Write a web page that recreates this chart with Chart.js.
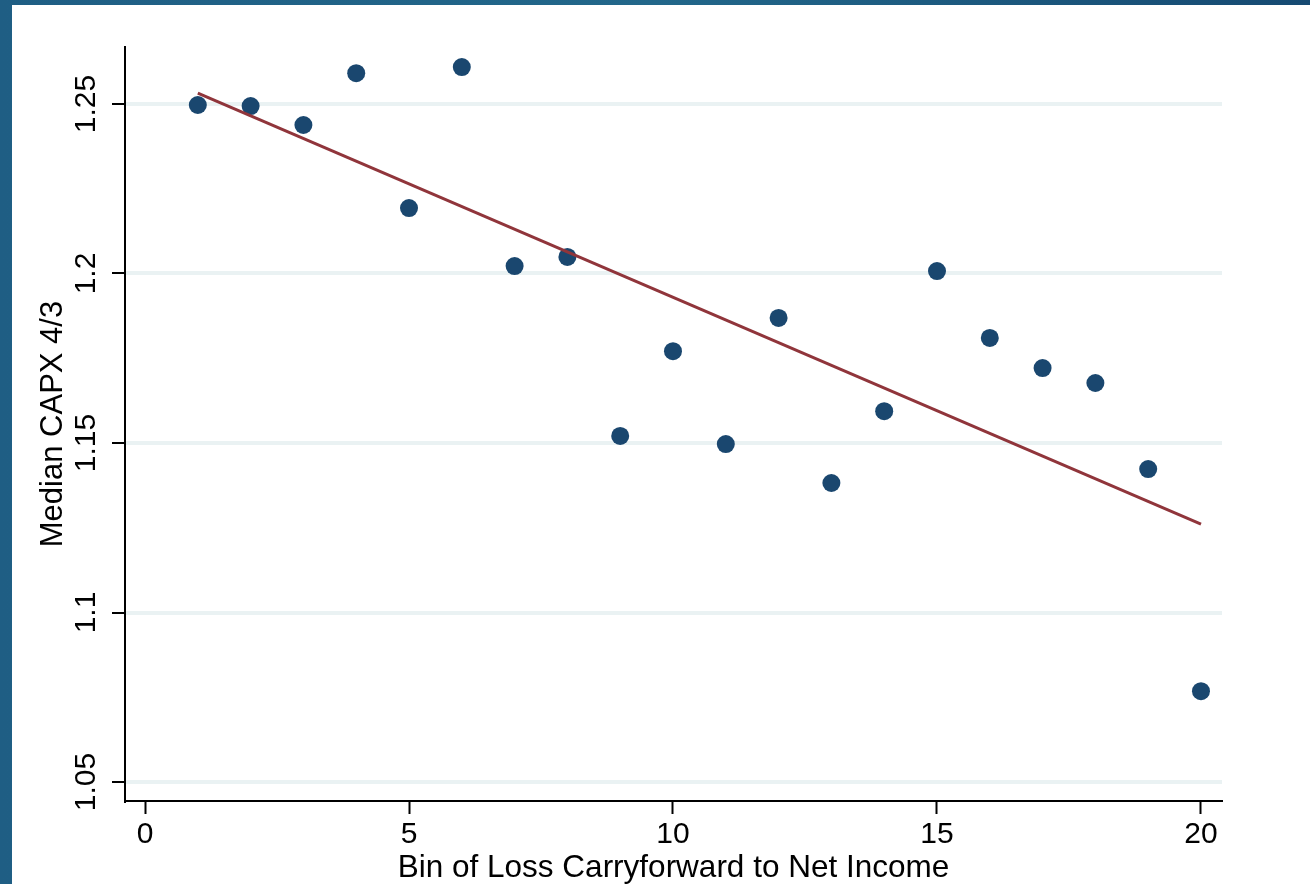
<!DOCTYPE html>
<html>
<head>
<meta charset="utf-8">
<script src="https://cdn.jsdelivr.net/npm/chart.js@4"></script>
<style>
html, body { margin: 0; padding: 0; width: 1310px; height: 884px; overflow: hidden; }
body { position: relative; background: linear-gradient(90deg, #1f5e84, #22678a 50%, #164a72); }
#panel { position: absolute; left: 12px; top: 5px; right: 0; bottom: 0; background: #ffffff; }
#chart { position: absolute; left: 0; top: 0; }
</style>
</head>
<body>
<div id="panel"></div>
<canvas id="chart" width="1310" height="884"></canvas>
<script>
// values
const bins = [1, 2, 3, 4, 5, 6, 7, 8, 9, 10, 11, 12, 13, 14, 15, 16, 17, 18, 19, 20];
const medianCapx = [1.2497, 1.2494, 1.2438, 1.2591, 1.2193, 1.2609, 1.2022, 1.2049, 1.1521, 1.1771,
                    1.1497, 1.1869, 1.1382, 1.1594, 1.2007, 1.1810, 1.1721, 1.1677, 1.1423, 1.0768];
const fitBins = [1, 20];
const fitValues = [1.2532, 1.1261];
const xTicks = [0, 5, 10, 15, 20];
const yTicks = [1.05, 1.1, 1.15, 1.2, 1.25];

const navy = '#1a476f';
const maroon = '#90353b';
const fontFamily = "'Liberation Sans', Arial, sans-serif";

document.addEventListener('DOMContentLoaded', () => {
    const ctx = document.getElementById('chart').getContext('2d');

    const points = bins.map((b, i) => ({ x: b, y: medianCapx[i] }));
    const fitLine = fitBins.map((b, i) => ({ x: b, y: fitValues[i] }));

    new Chart(ctx, {
        type: 'scatter',
        data: {
            datasets: [{
                data: fitLine,
                type: 'line',
                showLine: true,
                borderColor: maroon,
                borderWidth: 3,
                pointRadius: 0,
                fill: false,
                order: 0
            }, {
                data: points,
                backgroundColor: navy,
                borderColor: navy,
                borderWidth: 0,
                pointRadius: 9,
                order: 1
            }]
        },
        options: {
            responsive: false,
            animation: false,
            layout: { padding: { left: 0, right: 88, top: 47, bottom: 0 } },
            plugins: {
                legend: { display: false },
                tooltip: { enabled: false }
            },
            scales: {
                x: {
                    type: 'linear',
                    min: -0.379,
                    max: 20.398,
                    afterBuildTicks: (scale) => { scale.ticks = xTicks.map(v => ({ value: v })); },
                    afterFit: (scale) => { scale.height = 83; },
                    border: { color: '#000', width: 2 },
                    grid: {
                        drawOnChartArea: false,
                        drawTicks: true,
                        tickLength: 13,
                        tickColor: '#000',
                        tickWidth: 2
                    },
                    ticks: {
                        color: '#000',
                        font: { family: fontFamily, size: 30 },
                        padding: 3,
                        maxRotation: 0,
                        callback: (v) => String(v)
                    },
                    title: {
                        display: true,
                        text: 'Bin of Loss Carryforward to Net Income',
                        color: '#000',
                        font: { family: fontFamily, size: 31.5 },
                        padding: { top: 0, bottom: -3 }
                    }
                },
                y: {
                    type: 'linear',
                    min: 1.0444,
                    max: 1.26681,
                    afterBuildTicks: (scale) => { scale.ticks = yTicks.map(v => ({ value: v })); },
                    afterFit: (scale) => { scale.width = 125; },
                    border: { color: '#000', width: 2 },
                    grid: {
                        color: '#eaf2f3',
                        lineWidth: 4,
                        tickLength: 13,
                        tickColor: '#000',
                        tickWidth: 2
                    },
                    ticks: {
                        color: '#000',
                        font: { family: fontFamily, size: 30 },
                        padding: -4,
                        minRotation: 90,
                        maxRotation: 90,
                        crossAlign: 'center',
                        callback: (v) => String(v)
                    },
                    title: {
                        display: true,
                        text: 'Median CAPX 4/3',
                        color: '#000',
                        font: { family: fontFamily, size: 31 },
                        padding: { top: 35, bottom: 0 }
                    }
                }
            }
        }
    });
});
</script>
</body>
</html>
